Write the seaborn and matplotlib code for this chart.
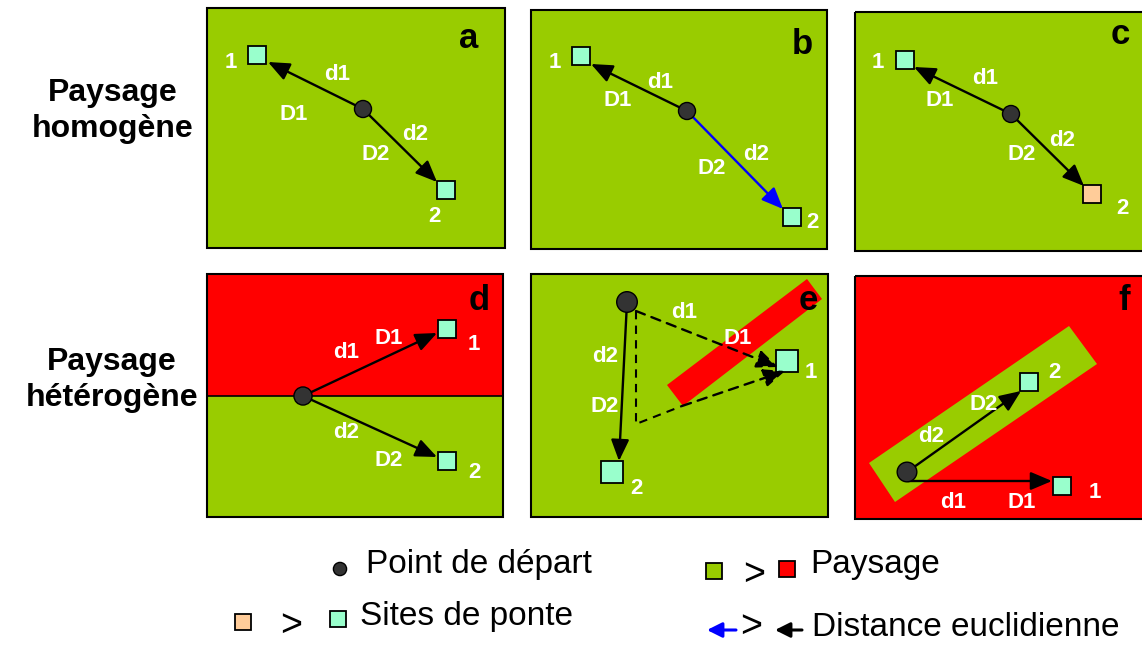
import numpy as np
import pandas as pd
import matplotlib.pyplot as plt
import seaborn as sns
from matplotlib.patches import Rectangle, Polygon

sns.set_style("white")
plt.rcParams['font.family'] = ['Liberation Sans', 'DejaVu Sans']
plt.rcParams['text.color'] = 'black'

# Colours
green = '#99CC00'
red = '#FF0000'
site_good = '#99FFCC'
site_bad = '#FFCC99'
dot_col = '#333333'

# Panels (pixel coordinates, y downwards)
letters = ['a', 'b', 'c', 'd', 'e', 'f']
boxes = [(207, 8, 505, 248), (531, 10, 827, 249), (855, 12, 1146, 251),
         (207, 274, 503, 517), (531, 274, 828, 517), (855, 276, 1146, 519)]
letter_pos = [(469, 38), (802, 44), (1120, 34), (479, 300), (808, 301), (1124, 300)]
background = [green, green, green, 'split', green, red]

starts = [(363, 109), (687, 111), (1011, 114), (303, 396), (627, 302), (907, 472)]
start_size = [150, 150, 150, 170, 220, 200]
site1 = [(257, 55), (581, 56), (905, 60), (447, 329), (787, 361), (1062, 486)]
site2 = [(446, 190), (792, 217), (1092, 194), (447, 461), (612, 472), (1029, 382)]
site1_size = [18, 18, 18, 18, 22, 18]
site2_size = [18, 18, 18, 18, 22, 18]
site2_col = [site_good, site_good, site_bad, site_good, site_good, site_good]

tip1 = [(268, 62), (591, 64), (914, 67), (437, 333), None, (1052, 481)]
tip2 = [(437, 182), (783, 209), (1084, 186), (437, 457), (619, 461), (1021, 391)]
tip2_col = ['black', 'blue', 'black', 'black', 'black', 'black']

# labels: (text, x, y)
labels = [
    [('1', 231, 62), ('d1', 337, 74), ('D1', 294, 115), ('d2', 415, 134), ('D2', 376, 155), ('2', 434, 217)],
    [('1', 555, 62), ('d1', 660, 83), ('D1', 618, 101), ('d2', 756, 155), ('D2', 712, 169), ('2', 812, 223)],
    [('1', 878, 62), ('d1', 985, 78), ('D1', 940, 101), ('d2', 1062, 140), ('D2', 1022, 155), ('2', 1122, 208)],
    [('d1', 346, 352), ('D1', 389, 339), ('1', 474, 345), ('d2', 346, 433), ('D2', 389, 460), ('2', 474, 473)],
    [('d1', 684, 313), ('D1', 738, 338), ('1', 811, 372), ('d2', 605, 357), ('D2', 605, 406), ('2', 636, 488)],
    [('d2', 931, 437), ('D2', 984, 405), ('2', 1054, 372), ('d1', 953, 502), ('D1', 1022, 502), ('1', 1095, 493)],
]

band_e = [(667, 385), (807, 279), (822, 299), (683, 406)]
band_f = [(869, 463), (1069, 326), (1097, 364), (895, 502)]

fig = plt.figure(figsize=(11.42, 6.46), dpi=100)
ax = fig.add_axes([0, 0, 1, 1])


def square(x, y, s, col):
    ax.add_patch(Rectangle((x - s / 2, y - s / 2), s, s, facecolor=col,
                           edgecolor='black', lw=1.3, zorder=4))


def arrow(p0, p1, col='black', ls='-', head='head_length=1.3,head_width=0.55', lw=1.7):
    ax.annotate('', xy=p1, xytext=p0,
                arrowprops=dict(arrowstyle='-|>,' + head,
                                color=col, lw=lw, linestyle=ls,
                                shrinkA=0, shrinkB=0), zorder=5)


for i in range(6):
    x0, y0, x1, y1 = boxes[i]
    if background[i] == 'split':
        ax.add_patch(Rectangle((x0, y0), x1 - x0, 396 - y0, facecolor=red, edgecolor='none', zorder=1))
        ax.add_patch(Rectangle((x0, 396), x1 - x0, y1 - 396, facecolor=green, edgecolor='none', zorder=1))
        ax.plot([x0, x1], [396, 396], color='black', lw=1.2, zorder=2)
    else:
        ax.add_patch(Rectangle((x0, y0), x1 - x0, y1 - y0, facecolor=background[i], edgecolor='none', zorder=1))
    ax.add_patch(Rectangle((x0, y0), x1 - x0, y1 - y0, facecolor='none', edgecolor='black', lw=1.5, zorder=6))
    ax.text(*letter_pos[i], letters[i], fontsize=25, fontweight='bold', ha='center', va='center', zorder=7)

ax.add_patch(Polygon(band_e, closed=True, facecolor=red, edgecolor='none', zorder=2))
ax.add_patch(Polygon(band_f, closed=True, facecolor=green, edgecolor='none', zorder=2))

for i in range(6):
    square(*site1[i], site1_size[i], site_good)
    square(*site2[i], site2_size[i], site2_col[i])
    if tip1[i] is not None:
        p0 = starts[i] if i != 5 else (908, 481)
        arrow(p0, tip1[i])
    arrow(starts[i], tip2[i], tip2_col[i])
    for t, x, y in labels[i]:
        ax.text(x, y, t, color='white', fontsize=16, fontweight='bold', ha='center', va='center', zorder=7)

# dashed paths in panel e
ax.plot([636, 636, 682], [311, 424, 406], color='black', lw=1.5, ls=(0, (4, 3)), zorder=3)
arrow((636, 311), (778, 367), ls=(0, (4, 3)))
arrow((682, 406), (785, 371), ls=(0, (4, 3)))

# start points drawn through seaborn
pts = pd.DataFrame(starts + [(340, 569)], columns=['x', 'y'])
sizes = start_size + [90]
sns.scatterplot(data=pts, x='x', y='y', s=sizes, color=dot_col, edgecolor='black',
                linewidth=1, zorder=8, ax=ax, legend=False)

# row titles
ax.text(113, 111, 'Paysage\nhomogène', fontsize=23, fontweight='bold', ha='center', va='center', linespacing=1.3)
ax.text(112, 380, 'Paysage\nhétérogène', fontsize=23, fontweight='bold', ha='center', va='center', linespacing=1.3)

# legend
leg_fs = 24
ax.text(366, 565, 'Point de départ', fontsize=leg_fs, ha='left', va='center')
square(714, 571, 16, green)
ax.text(754, 575, '>', fontsize=27, ha='center', va='center')
square(787, 569, 16, red)
ax.text(810, 565, 'Paysage', fontsize=leg_fs, ha='left', va='center')
square(243, 622, 16, site_bad)
ax.text(291, 626, '>', fontsize=27, ha='center', va='center')
square(338, 619, 16, site_good)
ax.text(360, 616, 'Sites de ponte', fontsize=leg_fs, ha='left', va='center')
arrow((736, 630), (707, 630), col='blue', head='head_length=0.9,head_width=0.45', lw=2.2)
ax.text(751, 627, '>', fontsize=27, ha='center', va='center')
arrow((802, 630), (775, 630), head='head_length=0.9,head_width=0.45', lw=2.2)
ax.text(812, 628, 'Distance euclidienne', fontsize=leg_fs, ha='left', va='center')

ax.set_xlim(0, 1142)
ax.set_ylim(646, 0)
ax.set_axis_off()

fig.savefig('out.png', dpi=100)
